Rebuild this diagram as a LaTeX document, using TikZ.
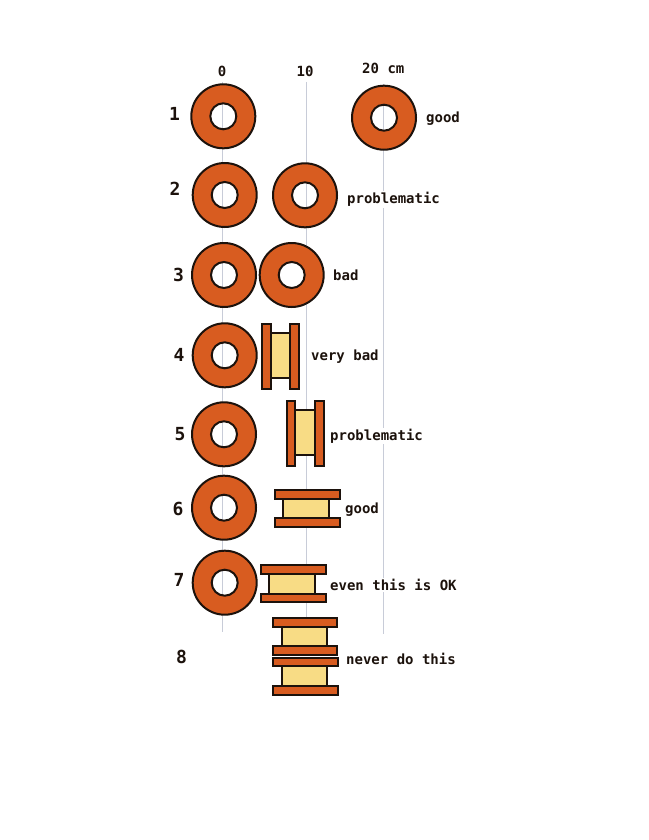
\documentclass[tikz,border=0pt]{standalone}
\usepackage{fontspec}
\setmonofont{DejaVu Sans Mono}
\definecolor{ringcolor}{HTML}{D85C20}
\definecolor{corecolor}{HTML}{F8DC85}
\definecolor{edgecolor}{HTML}{1C120C}
\definecolor{guidecolor}{HTML}{C8CCD8}
\tikzset{
  guide/.style={guidecolor,line width=1.2pt},
  ringshape/.style={draw=edgecolor,fill=ringcolor,line width=2pt,even odd rule},
  flange/.style={draw=edgecolor,fill=ringcolor,line width=2pt},
  core/.style={draw=edgecolor,fill=corecolor,line width=2pt},
  lbl/.style={font=\ttfamily\bfseries\fontsize{14}{14}\selectfont,fill=white,inner sep=1pt,anchor=west,text=edgecolor},
  scalelbl/.style={font=\ttfamily\bfseries\fontsize{14}{14}\selectfont,inner sep=0pt,text=edgecolor},
  rownum/.style={font=\ttfamily\bfseries\fontsize{18}{18}\selectfont,inner sep=0pt,text=edgecolor}
}

\begin{document}
\begin{tikzpicture}[x=1pt,y=-1pt]
  \useasboundingbox (0,0) rectangle (648,840);
  % guide lines
  \draw[guide] (222.8,82)--(222.8,632);
  \draw[guide] (306.5,82)--(306.5,618);
  \draw[guide] (383.5,84)--(383.5,634);
  % rings
  \foreach \x/\y in {223.3/116.3,384/117.7,224.7/195,305/195.3,224/275,291.7/275,
                     224.7/355.3,224/434.3,224/507.7,224.7/582.7}
    \draw[ringshape] (\x,\y) circle(32) (\x,\y) circle(13);
  % row 4
  \draw[core] (270.7,333.3) rectangle (290.3,378.3);
  \draw[flange] (262.3,324.3) rectangle (270.7,389.3);
  \draw[flange] (290.3,324.3) rectangle (299.3,389.3);
  % row 5
  \draw[core] (295.3,410) rectangle (315,455);
  \draw[flange] (286.6,400.7) rectangle (295.3,466);
  \draw[flange] (315,400.7) rectangle (323.7,466);
  % row 6
  \draw[core] (283.3,499) rectangle (328.7,518);
  \draw[flange] (274.9,490.3) rectangle (339.7,499);
  \draw[flange] (274.9,518) rectangle (339.7,526.8);
  % row 7
  \draw[core] (269,573.7) rectangle (315,593.7);
  \draw[flange] (261,565.2) rectangle (325.5,573.7);
  \draw[flange] (261,593.7) rectangle (325.5,602.4);
  % row 8
  \draw[core] (281.7,626.7) rectangle (326.7,646.3);
  \draw[core] (282.3,666.3) rectangle (327.3,685.7);
  \draw[flange] (272.6,618.2) rectangle (337,626.7);
  \draw[flange] (272.6,646.3) rectangle (337,654.8);
  \draw[flange] (273.3,657.6) rectangle (337.7,666.3);
  \draw[flange] (273.3,685.7) rectangle (337.7,694.7);
  % scale
  \node[scalelbl] (scale0) at (222,71) {0};
  \node[scalelbl] (scale10) at (305,71.5) {10};
  \node[scalelbl] (scale20) at (383.3,68) {20 cm};
  % row numbers
  \foreach \n/\x/\y in {1/174.5/114,2/175/188.5,3/178.5/275,4/179/355,
                        5/180/434,6/178/509,7/179/580,8/181.5/657}
    \node[rownum] (num\n) at (\x,\y) {\n};
  % verdicts
  \node[lbl] (verdict1) at (425,119) {good};
  \node[lbl] (verdict2) at (346,199.5) {problematic};
  \node[lbl] (verdict3) at (332,275) {bad};
  \node[lbl] (verdict4) at (310,357) {very bad};
  \node[lbl] (verdict5) at (329,436) {problematic};
  \node[lbl] (verdict6) at (344,509.5) {good};
  \node[lbl] (verdict7) at (329,585) {even this is OK};
  \node[lbl] (verdict8) at (345,659) {never do this};
\end{tikzpicture}
\end{document}
